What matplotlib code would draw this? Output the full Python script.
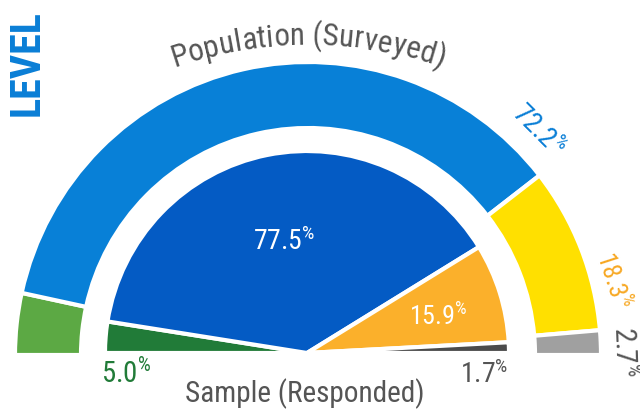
import matplotlib

matplotlib.use("Agg")
import matplotlib.pyplot as plt
import numpy as np
from matplotlib.textpath import TextToPath
from matplotlib.font_manager import FontProperties

# population (outer ring) and sample (inner half pie), left -> right
segments = ["green", "blue", "yellow", "gray"]
population_pct = [6.8, 72.2, 18.3, 2.7]
sample_pct = [5.0, 77.5, 15.9, 1.7]

outer_colors = ["#5ca944", "#0880d7", "#ffe000", "#a0a0a0"]
inner_colors = ["#217b38", "#045bc4", "#fbb02b", "#4b4b4b"]

title = "LEVEL"
outer_title = "Population (Surveyed)"
inner_title = "Sample (Responded)"

FAMILY = ["Roboto Condensed", "Open Sans Condensed", "Liberation Sans Narrow",
          "DejaVu Sans Condensed", "DejaVu Sans"]
TEXT_GRAY = "#555555"
PX = 100 / 72

plt.rcParams["font.family"] = FAMILY
plt.rcParams["font.stretch"] = "condensed"
plt.rcParams["mathtext.fontset"] = "custom"
plt.rcParams["mathtext.rm"] = FAMILY[0]
plt.rcParams["mathtext.default"] = "rm"

ttp = TextToPath()


def pct(v):
    return f"{v:.1f}" + r"$^{\%}$"


def text_width(s, size, weight="normal"):
    prop = FontProperties(family=FAMILY, stretch="condensed", size=size, weight=weight)
    ismath = "$" in s
    return ttp.get_text_width_height_descent(s, prop, ismath=ismath)[0] * PX


def fit_size(s, target_px, max_pt, weight="normal"):
    w = text_width(s, 10, weight)
    return min(max_pt, 10 * target_px / w)


def half_pie(ax, values, colors, center, radius, width=None):
    # hidden lower half so the visible part spans 180 degrees
    vals = list(values) + [sum(values)]
    cols = list(colors) + ["none"]
    props = dict(edgecolor="white", linewidth=3)
    if width is not None:
        props["width"] = width
    wedges, _ = ax.pie(vals, colors=cols, startangle=180, counterclock=False,
                       radius=radius, center=center, wedgeprops=props, frame=True)
    wedges[-1].set_edgecolor("none")
    return wedges


def curved_text(ax, s, cx, cy, r, size, color, weight="normal"):
    prop = FontProperties(family=FAMILY, stretch="condensed", size=size, weight=weight)
    widths = [ttp.get_text_width_height_descent(c, prop, ismath=False)[0] * PX for c in s]
    total = sum(widths)
    pos = -total / 2
    for c, w in zip(s, widths):
        mid = pos + w / 2
        ang = np.pi / 2 - mid / r
        x = cx + r * np.cos(ang)
        y = cy + r * np.sin(ang)
        ax.text(x, y, c, fontproperties=prop, color=color, ha="center", va="baseline",
                rotation=np.degrees(ang) - 90, rotation_mode="anchor")
        pos += w


def label(ax, x, y, s, color, target_px, rotation=0):
    size = fit_size(s, target_px, 26)
    ax.text(x, y, s, color=color, fontsize=size, ha="center", va="center",
            rotation=rotation, rotation_mode="anchor")


def main():
    fig = plt.figure(figsize=(6.4, 4.11), dpi=100)
    ax = fig.add_axes([0, 0, 1, 1])

    half_pie(ax, population_pct, outer_colors, (308, 56), 293, width=66)
    half_pie(ax, sample_pct, inner_colors, (307, 58), 202)

    ax.set_xlim(0, 640)
    ax.set_ylim(0, 411)
    ax.set_aspect("equal")
    ax.axis("off")

    # percentage labels
    label(ax, -14, 92, pct(population_pct[0]), outer_colors[0], 52, rotation=80)
    label(ax, 538, 280, pct(population_pct[1]), "#0a7ed6", 62, rotation=-45)
    label(ax, 613, 131, pct(population_pct[2]), "#f7a823", 58, rotation=-72)
    label(ax, 624, 59, pct(population_pct[3]), TEXT_GRAY, 50, rotation=-88)

    label(ax, 126, 38, pct(sample_pct[0]), inner_colors[0], 50)
    label(ax, 284, 169, pct(sample_pct[1]), "white", 62)
    label(ax, 438, 95, pct(sample_pct[2]), "white", 58)
    label(ax, 484, 36, pct(sample_pct[3]), TEXT_GRAY, 48)

    curved_text(ax, outer_title, 308, -47, 413, fit_size(outer_title, 272, 30), TEXT_GRAY)
    ax.text(305, 9, inner_title, color=TEXT_GRAY, fontsize=fit_size(inner_title, 240, 30),
            ha="center", va="baseline")

    ax.text(27, 348, title, color="#0a7ed6", fontweight="bold",
            fontsize=fit_size(title, 106, 44, weight="bold"),
            rotation=90, ha="center", va="center")

    fig.savefig("out.png", dpi=100)
    plt.close(fig)


if __name__ == "__main__":
    main()
